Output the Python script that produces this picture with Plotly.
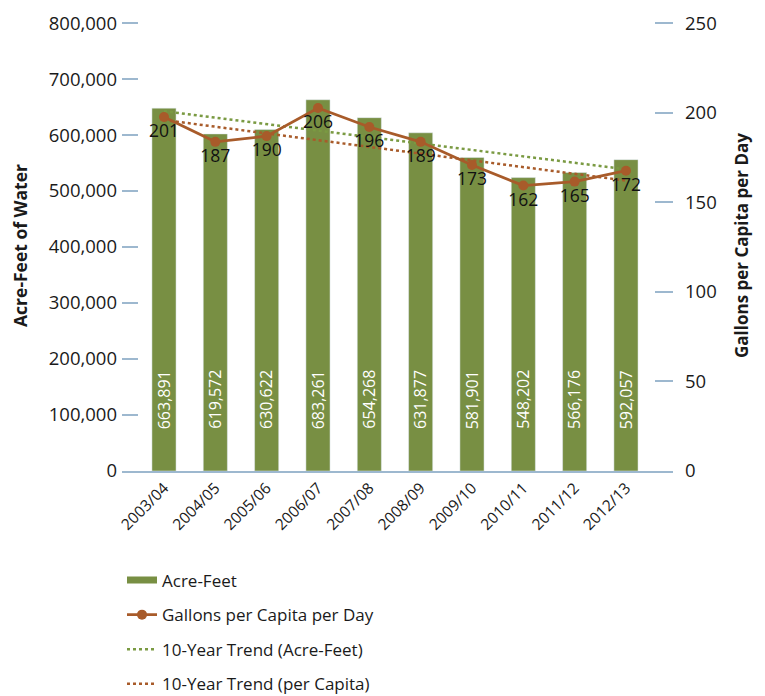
import plotly.graph_objects as go

years = ["2003/04", "2004/05", "2005/06", "2006/07", "2007/08",
         "2008/09", "2009/10", "2010/11", "2011/12", "2012/13"]
# bar heights as drawn in the picture (acre-feet)
acre_feet = [648000, 602000, 610000, 663000, 631000, 604000, 560000, 524000, 533000, 556000]
# printed bar labels
acre_feet_labels = ["663,891", "619,572", "630,622", "683,261", "654,268",
                    "631,877", "581,901", "548,202", "566,176", "592,057"]
# per-capita points as drawn, and their printed labels
gpcd = [197.6, 183.7, 186.9, 202.6, 192.0, 183.7, 170.8, 159.3, 161.5, 167.6]
gpcd_labels = ["201", "187", "190", "206", "196", "189", "173", "162", "165", "172"]
# trend line end points (first and last year)
trend_years = ["2003/04", "2012/13"]
trend_acre_feet = [642500, 538800]
trend_gpcd = [195.9, 162.1]

FONT = "Open Sans"
GREEN = "#788f43"
BROWN = "#a85b2a"
TGREEN = "#7a9a42"
AXIS = "#9db8cf"
TXT = "#1a1a1a"

fig = go.Figure()
fig.add_trace(go.Bar(x=years, y=acre_feet, name="Acre-Feet", marker_color=GREEN,
                     width=0.47, showlegend=False, hoverinfo="skip"))
# legend entry for the bars (wide swatch)
fig.add_trace(go.Scatter(x=[None], y=[None], mode="lines", name="Acre-Feet",
                         line=dict(color=GREEN, width=7),
                         legendrank=1, legendgroup="a"))
fig.add_trace(go.Scatter(x=trend_years, y=trend_acre_feet, mode="lines",
                         name="10-Year Trend (Acre-Feet)",
                         line=dict(color=TGREEN, width=2.5, dash="dot"),
                         legendrank=3, legendgroup="c"))
fig.add_trace(go.Scatter(x=trend_years, y=trend_gpcd, mode="lines", yaxis="y2",
                         name="10-Year Trend (per Capita)",
                         line=dict(color=BROWN, width=2.5, dash="dot"),
                         legendrank=4, legendgroup="d"))
fig.add_trace(go.Scatter(x=years, y=gpcd, mode="lines+markers+text", yaxis="y2",
                         name="Gallons per Capita per Day",
                         line=dict(color=BROWN, width=2.8),
                         marker=dict(color=BROWN, size=10),
                         text=gpcd_labels, textposition="bottom center",
                         textfont=dict(family=FONT, size=17.5, color="#111"),
                         legendrank=2, legendgroup="b"))

for yr, lab in zip(years, acre_feet_labels):
    fig.add_annotation(x=yr, y=128000, text=lab, textangle=-90, showarrow=False,
                       font=dict(family=FONT, size=16, color="white"))

fig.update_layout(
    width=765, height=696,
    margin=dict(l=114, r=100, t=12, b=233, autoexpand=False),
    plot_bgcolor="white", paper_bgcolor="white",
    font=dict(family=FONT, size=17, color=TXT),
    showlegend=True,
    legend=dict(x=0.0, y=-0.2029, xanchor="left", yanchor="top",
                font=dict(family=FONT, size=17, color=TXT),
                tracegroupgap=9.5, bgcolor="rgba(0,0,0,0)"),
    xaxis=dict(range=[-0.818, 9.916], showgrid=False, ticks="",
               showline=True, linecolor=AXIS, linewidth=2, automargin=False,
               tickangle=-45, tickfont=dict(family=FONT, size=15.5, color=TXT)),
    yaxis=dict(range=[0, 805400], dtick=100000, tickformat=",", showgrid=False,
               zeroline=False, showline=False, ticks="inside", ticklen=16,
               tickcolor=AXIS, tickwidth=1.5, ticklabelstandoff=4, automargin=False,
               ticklabeloverflow="allow",
               tickfont=dict(family=FONT, size=18.5, color=TXT),
               title=dict(text="<b>Acre-Feet of Water</b>", standoff=20,
                          font=dict(family=FONT, size=17.5, color=TXT))),
    yaxis2=dict(range=[0, 251.7], dtick=50, overlaying="y", side="right",
                showgrid=False, zeroline=False, showline=False, automargin=False,
                ticks="inside", ticklen=18, tickcolor=AXIS, tickwidth=1.5,
                ticklabelstandoff=11, ticklabeloverflow="allow",
                tickfont=dict(family=FONT, size=18.5, color=TXT),
                title=dict(text="<b>Gallons per Capita per Day</b>", standoff=20,
                           font=dict(family=FONT, size=17, color=TXT))),
    bargap=0.5,
)

fig.write_html("out.html")
